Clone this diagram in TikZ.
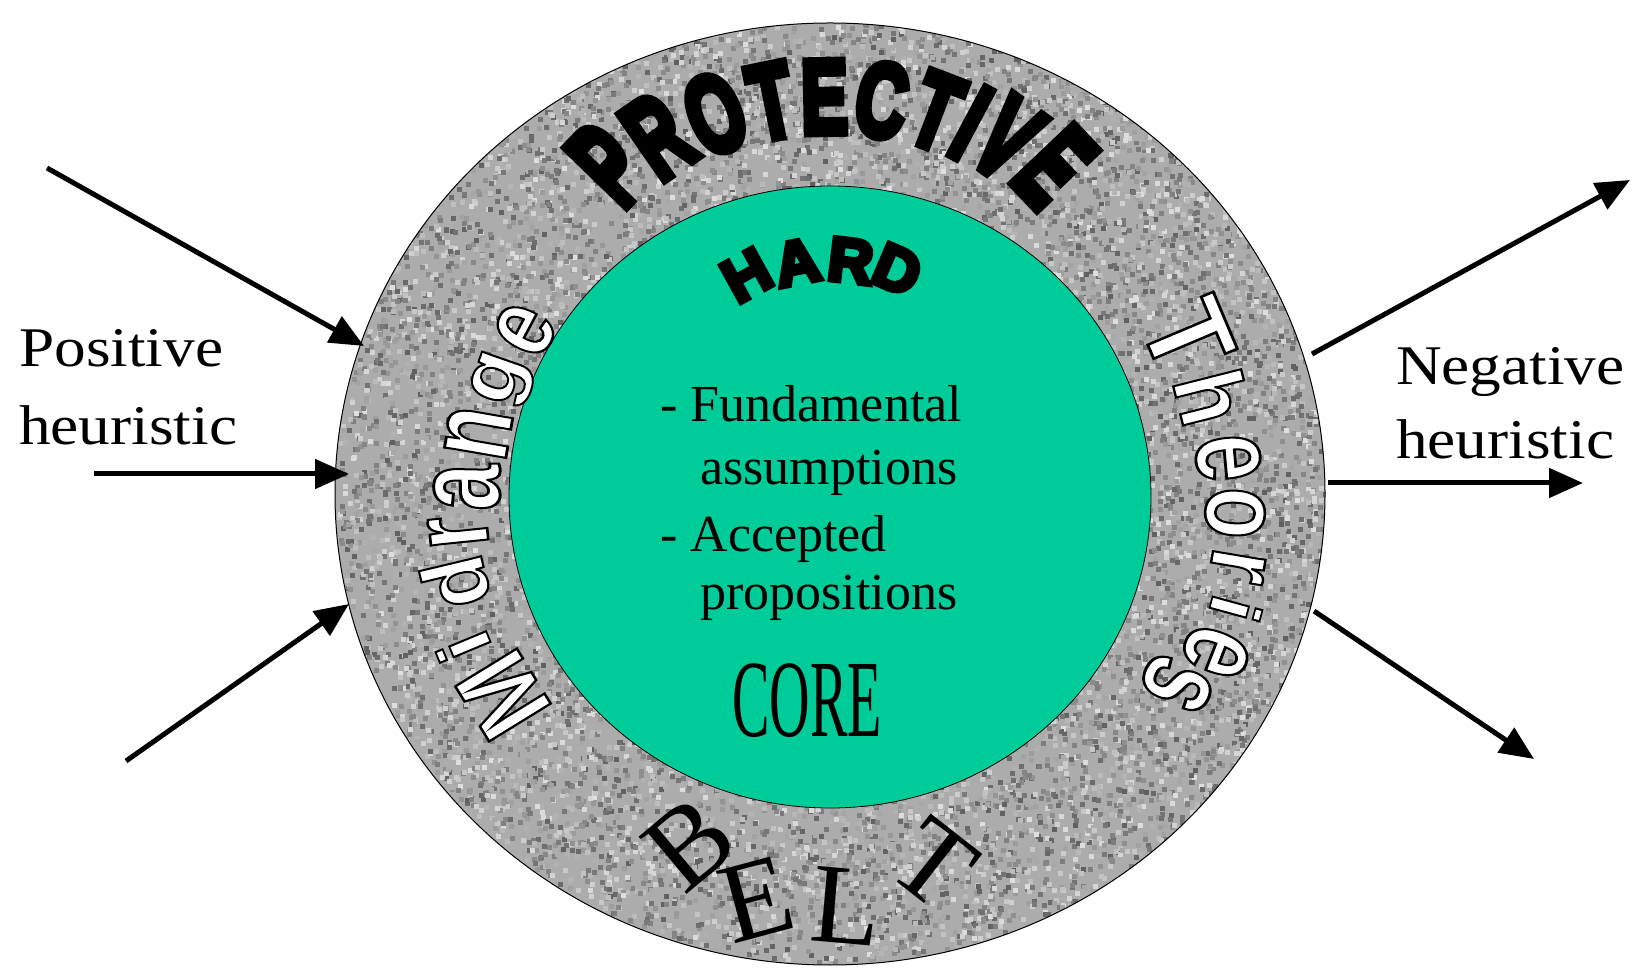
\documentclass[tikz,border=0pt]{standalone}
\usepackage{fontspec}
\setmainfont{Liberation Serif}
\newfontfamily\lblfont[FakeStretch=1.13]{Liberation Serif}
\newfontfamily\heavyfont[FakeBold=8]{Liberation Sans Bold}
\newfontfamily\wordfont{Liberation Sans Bold}
\newcommand\outl[1]{\special{pdf:literal direct 0 G 2 Tr 2 w}#1\special{pdf:literal direct 0 Tr}}
\usetikzlibrary{arrows.meta,shapes.geometric}
\definecolor{coregreen}{RGB}{0,204,153}
\definecolor{beltgray}{RGB}{172,172,172}
\begin{document}
\begin{tikzpicture}[x=1pt,y=1pt,
  arrowline/.style={line width=5pt,-{Triangle[length=34pt,width=29pt]}},
  lbl/.style={font=\lblfont\fontsize{56}{60}\selectfont,anchor=base west,inner sep=0},
  coretext/.style={font=\fontsize{52}{55}\selectfont,anchor=base west,inner sep=0},
  heavyletter/.style={font=\heavyfont\fontsize{87}{90}\selectfont,inner sep=0},
  hardletter/.style={font=\heavyfont\fontsize{62}{62}\selectfont,inner sep=0},
  wordletter/.style={font=\wordfont\fontsize{84}{84}\selectfont,text=white,inner sep=0},
  beltletter/.style={font=\fontsize{114}{114}\selectfont,inner sep=0}]
\useasboundingbox (0,0) rectangle (1642,967);

% granite belt
\begin{scope}
\clip (830,473) ellipse [x radius=495,y radius=471];
\fill[beltgray] (330,0) rectangle (1330,950);
\pgfmathsetseed{17}
\foreach \i in {1,...,9000}{
  \pgfmathsetmacro\spA{360*rnd}
  \pgfmathsetmacro\spR{sqrt(0.4+0.6*rnd)}
  \pgfmathsetmacro\spG{int(38+50*rnd)}
  \fill[white!\spG!black] ({830+495*\spR*cos(\spA)},{473+471*\spR*sin(\spA)}) rectangle ++(5,5);
}
\end{scope}
\node[draw,ellipse,minimum width=990pt,minimum height=942pt,inner sep=0,line width=1pt] (belt) at (830,473) {};
\node[draw,ellipse,fill=coregreen,minimum width=642pt,minimum height=622pt,inner sep=0,line width=0.8pt] (corecircle) at (830,470) {};

% PROTECTIVE
\foreach \ch/\a/\s [count=\k] in {P/124/1.4,R/115.7/1.32,O/106.8/1.26,T/98.5/1.22,E/90.8/1.2,C/82.5/1.2,T/74.5/1.22,I/69.2/1.26,V/63.5/1.32,E/55.5/1.4}
  \node[heavyletter,rotate={1.35*(\a-90)}] (prot\k) at ({830+397*cos(\a)},{473+397*sin(\a)}) {\scalebox{0.8}[\s]{\ch}};

% HARD
\foreach \ch/\a [count=\k] in {H/110.6,A/98,R/85,D/73.5}
  \node[hardletter,rotate={1.4*(\a-90)}] (hard\k) at ({830+237*cos(\a)},{470+237*sin(\a)}) {\ch};

% CORE
\node[font=\fontsize{110}{110}\selectfont,inner sep=0] (core) at (807,266) {\scalebox{0.51}[1]{CORE}};

% BELT
\foreach \ch/\x/\y/\r [count=\k] in {B/690/844/40,E/756/899/15,L/846/906/-5,T/934/864/-38}
  \node[beltletter,rotate=\r] (belt\k) at (\x,{967-\y}) {\ch};

% Midrange
\foreach \ch/\x/\y/\r/\sx/\sy [count=\k] in {M/503/695/121.6/1.1/1.25,i/463/647/112.6/1.0/0.9,d/455/583/103.4/1.0/1.05,r/458/532/95.8/1.0/1.3,a/467/487/88.9/1.0/1.45,n/478/433/80.2/1.0/1.4,g/503/380/70.8/1.0/0.95,e/525/330/62/0.95/1.25}
  \node[wordletter,rotate=\r] (mid\k) at (\x,{967-\y}) {\outl{\scalebox{\sx}[\sy]{\ch}}};

% Theories
\foreach \ch/\x/\y/\r/\sx/\sy [count=\k] in {T/1188/336/-67.1/1.25/1.4,h/1212/397/-75.8/1.0/1.15,e/1228/458/-84.8/1.0/1.4,o/1235/513/-92.5/1.0/1.3,r/1238/566/-99.6/1.0/1.2,i/1236/609/-105.3/1.0/0.85,e/1216/652/-111.3/1.0/1.4,s/1177/684/-117.1/1.0/1.5}
  \node[wordletter,rotate=\r] (the\k) at (\x,{967-\y}) {\outl{\scalebox{\sx}[\sy]{\ch}}};

% core text
\node[coretext] (l1) at (660,545) {- Fundamental};
\node[coretext] (l2) at (700,482) {assumptions};
\node[coretext] (l3) at (660,415) {- Accepted};
\node[coretext] (l4) at (700,357) {propositions};

% labels
\node[lbl] (pos1) at (19,600) {Positive};
\node[lbl] (pos2) at (19,522) {heuristic};
\node[lbl] (neg1) at (1396,582) {Negative};
\node[lbl] (neg2) at (1396,508) {heuristic};

% arrows
\coordinate (lin1) at (47,799);  \coordinate (lend1) at (364,621);
\coordinate (lin2) at (94,493);  \coordinate (lend2) at (349,493);
\coordinate (lin3) at (126,206); \coordinate (lend3) at (349,363);
\coordinate (rst1) at (1312,613); \coordinate (rout1) at (1630,787);
\coordinate (rst2) at (1328,484); \coordinate (rout2) at (1583,484);
\coordinate (rst3) at (1314,356); \coordinate (rout3) at (1534,208);
\draw[arrowline] (lin1) -- (lend1);
\draw[arrowline] (lin2) -- (lend2);
\draw[arrowline] (lin3) -- (lend3);
\draw[arrowline] (rst1) -- (rout1);
\draw[arrowline] (rst2) -- (rout2);
\draw[arrowline] (rst3) -- (rout3);
\end{tikzpicture}
\end{document}
